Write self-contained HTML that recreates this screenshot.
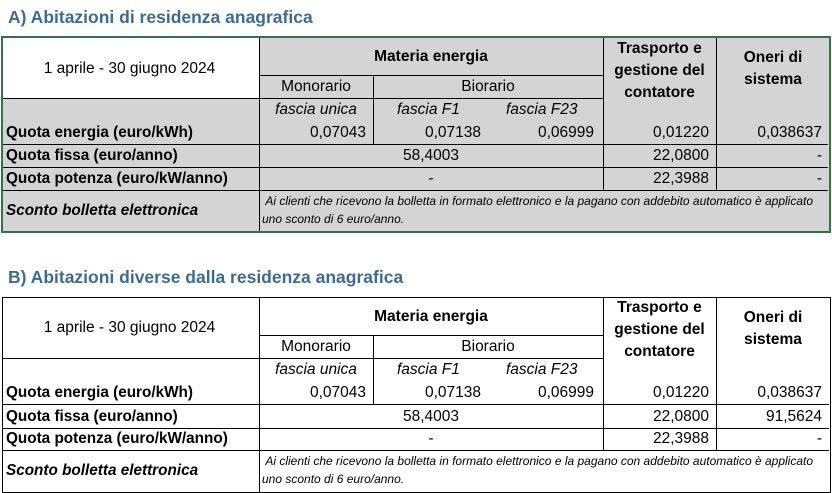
<!DOCTYPE html>
<html><head><meta charset="utf-8"><style>
body{margin:0;width:832px;height:493px;background:#fff;position:relative;overflow:hidden;font-family:"Liberation Sans",sans-serif;color:#000}
div{position:absolute;white-space:nowrap}
.t{font-weight:bold;font-size:17.5px;color:#3e6b8e}
.h{height:1px;background:#000}
.v{width:1px;background:#000}
.c{text-align:center}
.r{text-align:right}
.s{font-size:15.5px;line-height:17px}
.b{font-weight:bold;font-size:15.3px}
.hb{font-weight:bold;font-size:15.5px}
.i{font-style:italic;font-size:15.5px}
.n{font-size:12px;font-style:italic;line-height:18px}
</style></head><body>
<div class="t" style="left:8px;top:7px">A) Abitazioni di residenza anagrafica</div>
<div class="t" style="left:8px;top:267px">B) Abitazioni diverse dalla residenza anagrafica</div>

<!-- Table A -->
<div style="left:1px;top:36px;width:826px;height:193px;border:2px solid #3a6e50;background:#d4d4d4"></div>
<div style="left:3px;top:38px;width:256px;height:60px;background:#fff"></div>
<div class="v" style="left:259px;top:38px;height:193px"></div>
<div class="v" style="left:373px;top:75px;height:69px"></div>
<div class="v" style="left:603px;top:38px;height:152px"></div>
<div class="v" style="left:716px;top:38px;height:152px"></div>
<div class="h" style="left:259px;top:75px;width:344px"></div>
<div class="h" style="left:3px;top:98px;width:600px"></div>
<div class="h" style="left:3px;top:144px;width:825px"></div>
<div class="h" style="left:3px;top:167px;width:825px"></div>
<div class="h" style="left:3px;top:190px;width:825px"></div>

<!-- Table B -->
<div style="left:2px;top:297px;width:827px;height:194px;border:1px solid #000"></div>
<div class="v" style="left:259px;top:297px;height:195px"></div>
<div class="v" style="left:373px;top:335px;height:69px"></div>
<div class="v" style="left:603px;top:297px;height:153px"></div>
<div class="v" style="left:716px;top:297px;height:153px"></div>
<div class="h" style="left:259px;top:335px;width:344px"></div>
<div class="h" style="left:2px;top:358px;width:601px"></div>
<div class="h" style="left:2px;top:404px;width:827px"></div>
<div class="h" style="left:2px;top:428px;width:827px"></div>
<div class="h" style="left:2px;top:450px;width:827px"></div>

<!-- Text A -->
<div class="s c" style="left:0;width:259px;top:60px">1 aprile - 30 giugno 2024</div>
<div class="s c hb" style="left:259px;width:344px;top:48px">Materia energia</div>
<div class="s c" style="left:259px;width:114px;top:78px">Monorario</div>
<div class="s c" style="left:373px;width:230px;top:78px">Biorario</div>
<div class="s c hb" style="left:603px;width:113px;top:38px;line-height:22px">Trasporto e<br>gestione del<br>contatore</div>
<div class="s c hb" style="left:716px;width:114px;top:47px;line-height:22px">Oneri di<br>sistema</div>
<div class="s c i" style="left:259px;width:114px;top:101px">fascia unica</div>
<div class="s i" style="left:397px;top:101px">fascia F1</div>
<div class="s i" style="left:506px;top:101px">fascia F23</div>
<div class="s b" style="left:6px;top:124px">Quota energia (euro/kWh)</div>
<div class="s r" style="left:259px;width:107px;top:124px">0,07043</div>
<div class="s r" style="left:373px;width:108px;top:124px">0,07138</div>
<div class="s r" style="left:481px;width:113px;top:124px">0,06999</div>
<div class="s r" style="left:603px;width:106px;top:124px">0,01220</div>
<div class="s r" style="left:716px;width:106px;top:124px">0,038637</div>
<div class="s b" style="left:6px;top:147px">Quota fissa (euro/anno)</div>
<div class="s c" style="left:259px;width:344px;top:147px">58,4003</div>
<div class="s r" style="left:603px;width:106px;top:147px">22,0800</div>
<div class="s r" style="left:716px;width:106px;top:147px">-</div>
<div class="s b" style="left:6px;top:170px">Quota potenza (euro/kW/anno)</div>
<div class="s c" style="left:259px;width:344px;top:170px">-</div>
<div class="s r" style="left:603px;width:106px;top:170px">22,3988</div>
<div class="s r" style="left:716px;width:106px;top:170px">-</div>
<div class="s b" style="left:6px;top:202px;font-style:italic">Sconto bolletta elettronica</div>
<div class="n" style="left:262px;top:192px">&nbsp;Ai clienti che ricevono la bolletta in formato elettronico e la pagano con addebito automatico è applicato<br>uno sconto di 6 euro/anno.</div>

<!-- Text B -->
<div class="s c" style="left:0;width:259px;top:319px">1 aprile - 30 giugno 2024</div>
<div class="s c hb" style="left:259px;width:344px;top:308px">Materia energia</div>
<div class="s c" style="left:259px;width:114px;top:338px">Monorario</div>
<div class="s c" style="left:373px;width:230px;top:338px">Biorario</div>
<div class="s c hb" style="left:603px;width:113px;top:297px;line-height:22px">Trasporto e<br>gestione del<br>contatore</div>
<div class="s c hb" style="left:716px;width:114px;top:307px;line-height:22px">Oneri di<br>sistema</div>
<div class="s c i" style="left:259px;width:114px;top:361px">fascia unica</div>
<div class="s i" style="left:397px;top:361px">fascia F1</div>
<div class="s i" style="left:506px;top:361px">fascia F23</div>
<div class="s b" style="left:6px;top:384px">Quota energia (euro/kWh)</div>
<div class="s r" style="left:259px;width:107px;top:384px">0,07043</div>
<div class="s r" style="left:373px;width:108px;top:384px">0,07138</div>
<div class="s r" style="left:481px;width:113px;top:384px">0,06999</div>
<div class="s r" style="left:603px;width:106px;top:384px">0,01220</div>
<div class="s r" style="left:716px;width:106px;top:384px">0,038637</div>
<div class="s b" style="left:6px;top:408px">Quota fissa (euro/anno)</div>
<div class="s c" style="left:259px;width:344px;top:408px">58,4003</div>
<div class="s r" style="left:603px;width:106px;top:408px">22,0800</div>
<div class="s r" style="left:716px;width:106px;top:408px">91,5624</div>
<div class="s b" style="left:6px;top:430px">Quota potenza (euro/kW/anno)</div>
<div class="s c" style="left:259px;width:344px;top:430px">-</div>
<div class="s r" style="left:603px;width:106px;top:430px">22,3988</div>
<div class="s r" style="left:716px;width:106px;top:430px">-</div>
<div class="s b" style="left:6px;top:462px;font-style:italic">Sconto bolletta elettronica</div>
<div class="n" style="left:262px;top:452px">&nbsp;Ai clienti che ricevono la bolletta in formato elettronico e la pagano con addebito automatico è applicato<br>uno sconto di 6 euro/anno.</div>
</body></html>
